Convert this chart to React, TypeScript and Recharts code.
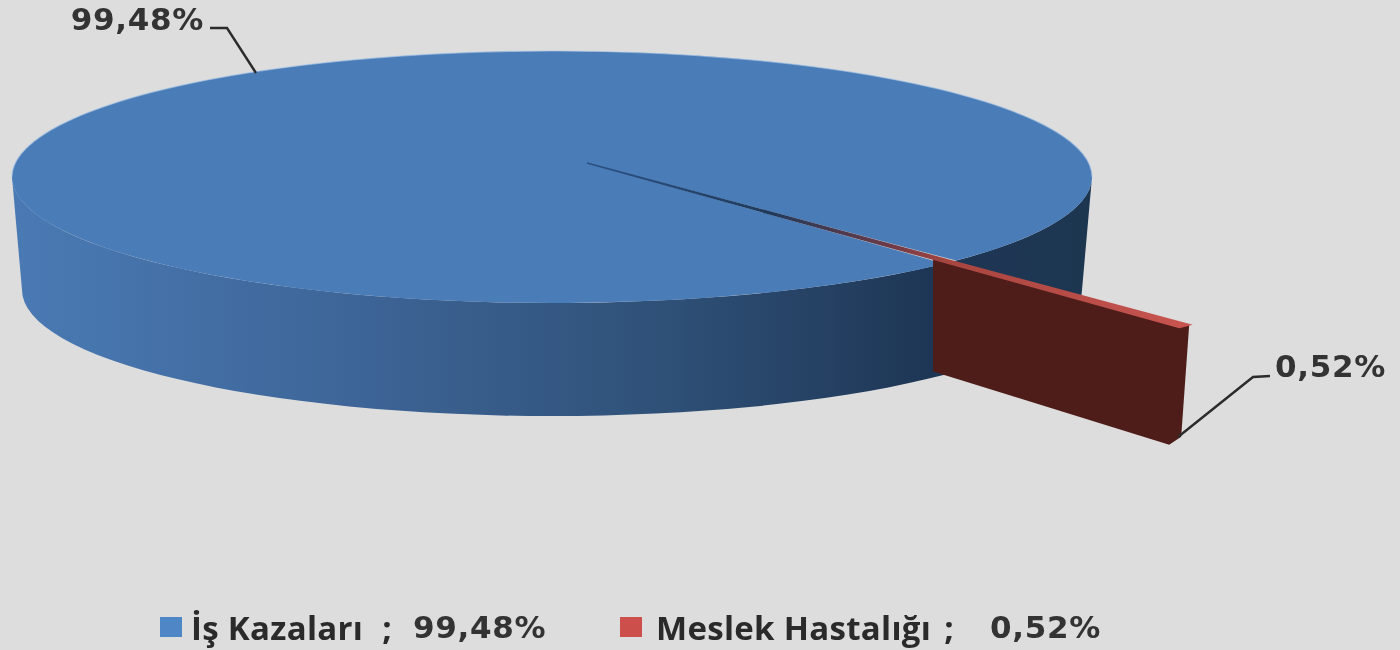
import { PieChart, Pie, Legend } from "recharts";

const sliceNames = ["İş Kazaları", "Meslek Hastalığı"];
const sliceValues = [99.48, 0.52];
const sliceColors = ["#4a7cb8", "#c0504d"];

const data = sliceNames.map((name, i) => ({ name, value: sliceValues[i], fill: sliceColors[i] }));

const fmt = (v: number) => v.toFixed(2).replace(".", ",") + "%";
const RAD = Math.PI / 180;

// the pie is flattened: vertical radius is a fraction of the horizontal one
const SQUASH = 126 / 540;
const BASE_SCALE = 530 / 540;
const DEPTH = 113;
// tips of the wedges sit off the ellipse centre because of the 3D view
const APEX_DX = 35;
const APEX_DY = -14;
const EXPLODE = 1.645;
const WALL_START = 0.953;

function Slice(props: any) {
  const { cx, cy, outerRadius: r, startAngle, endAngle, value } = props;
  const ry = r * SQUASH;
  const onRim = (a: number) => [cx + r * Math.cos(a * RAD), cy - ry * Math.sin(a * RAD)];
  const apex = [cx + APEX_DX, cy + APEX_DY];
  const ray = (a: number, k: number) => {
    const p = onRim(a);
    return [apex[0] + k * (p[0] - apex[0]), apex[1] + k * (p[1] - apex[1])];
  };
  const line = (pts: number[][]) => pts.map((p, i) => `${i ? "L" : "M"}${p[0]},${p[1]}`).join(" ") + " Z";

  if (value > 50) {
    const a = onRim(startAngle);
    const b = onRim(endAngle);
    const rb = r * BASE_SCALE;
    const side =
      `M${cx - r},${cy} A${r},${ry} 0 0 0 ${cx + r},${cy} ` +
      `L${cx + rb},${cy + DEPTH} A${rb},${ry} 0 0 1 ${cx - rb},${cy + DEPTH} Z`;
    return (
      <g>
        <defs>
          <linearGradient id="wallBlue" gradientUnits="userSpaceOnUse" x1={cx - r} y1={0} x2={cx + r} y2={0}>
            <stop offset="0" stopColor="#4a7ab4" />
            <stop offset="0.3" stopColor="#3e6699" />
            <stop offset="0.6" stopColor="#2f5178" />
            <stop offset="0.85" stopColor="#1e3655" />
            <stop offset="1" stopColor="#1d3650" />
          </linearGradient>
        </defs>
        <path d={side} fill="url(#wallBlue)" />
        <path d={`M${apex[0]},${apex[1]} L${a[0]},${a[1]} A${r},${ry} 0 1 1 ${b[0]},${b[1]} Z`} fill={props.fill} />
        {/* pale rim along the far edge only */}
        <path
          d={`M${cx - r},${cy} A${r},${ry} 0 0 1 ${cx + r},${cy}`}
          fill="none"
          stroke="#a9c6e8"
          strokeOpacity={0.6}
          strokeWidth={1.2}
        />
      </g>
    );
  }

  const mid = (startAngle + endAngle) / 2;
  const half = (startAngle - endAngle) / 4;
  const up = ray(mid + half, EXPLODE);
  const low = ray(mid - half, EXPLODE);
  const wallA = ray(mid, WALL_START);
  return (
    <g>
      <defs>
        <linearGradient
          id="stripeRed"
          gradientUnits="userSpaceOnUse"
          x1={apex[0]}
          y1={apex[1]}
          x2={up[0]}
          y2={up[1]}
        >
          <stop offset="0" stopColor="#2b5285" />
          <stop offset="0.3" stopColor="#1f3a5c" />
          <stop offset="0.5" stopColor="#6b3a48" />
          <stop offset="0.6" stopColor="#a84540" />
          <stop offset="1" stopColor="#c8544f" />
        </linearGradient>
      </defs>
      <path
        d={line([
          wallA,
          up,
          [up[0] - 8, up[1] + 112],
          [up[0] - 20, up[1] + 120],
          [wallA[0], wallA[1] + DEPTH + 1],
        ])}
        fill="#4f1d19"
      />
      <path d={line([apex, up, low])} fill="url(#stripeRed)" stroke="url(#stripeRed)" strokeWidth={1.8} />
    </g>
  );
}

function SliceLabel(props: any) {
  const { cx, cy, value } = props;
  const big = value > 50;
  const pts = big
    ? [[cx - 296, cy - 104], [cx - 325, cy - 149], [cx - 342, cy - 149]]
    : [[cx + 626, cy + 260], [cx + 701, cy + 200], [cx + 718, cy + 199]];
  return (
    <g>
      <polyline points={pts.map((p) => p.join(",")).join(" ")} fill="none" stroke="#2b2b2b" strokeWidth={2.4} />
      <text
        x={big ? cx - 348 : cx + 723}
        y={big ? cy - 147 : cy + 200}
        textAnchor={big ? "end" : "start"}
        fontFamily="DejaVu Sans"
        fontWeight="bold"
        fontSize={31}
        letterSpacing={0.7}
        fill="#333333"
      >
        {fmt(value)}
      </text>
    </g>
  );
}

function LegendRow() {
  return (
    <div style={{ display: "flex", color: "#2a2a2a", height: 46, alignItems: "center" }}>
      {data.map((d, i) => (
        <div key={d.name} style={{ display: "flex", alignItems: "center", width: 460, whiteSpace: "pre", flex: "none" }}>
          <span style={{ width: 22, height: 20, background: i === 0 ? "#4f86c6" : "#cc4f4c", marginRight: i === 0 ? 9 : 14, flex: "none" }} />
          <span
            style={{
              fontFamily: "Open Sans",
              fontWeight: 700,
              fontSize: 33,
              letterSpacing: 0.3,
              width: i === 0 ? 222 : 334,
              flex: "none",
            }}
          >
            {d.name}
            <span style={{ marginLeft: i === 0 ? 19 : 13 }}>;</span>
          </span>
          <span style={{ fontFamily: "DejaVu Sans", fontWeight: "bold", fontSize: 31, letterSpacing: 0.7, color: "#333333", flex: "none" }}>
            {fmt(d.value)}
          </span>
        </div>
      ))}
    </div>
  );
}

export default function App() {
  return (
    <div style={{ position: "absolute", left: 0, top: 0, width: 1400, height: 650, background: "#dddddd", overflow: "hidden", filter: "blur(0.7px)" }}>
      <PieChart width={1400} height={650} margin={{ top: 0, right: 0, bottom: 0, left: 0 }}>
        <Pie
          data={data}
          dataKey="value"
          nameKey="name"
          cx={552}
          cy={177}
          outerRadius={540}
          startAngle={-43.44}
          endAngle={-403.44}
          stroke="none"
          shape={Slice}
          label={SliceLabel}
          labelLine={false}
          isAnimationActive={false}
        />
        <Legend content={LegendRow} wrapperStyle={{ position: "absolute", left: 160, top: 604, width: 1000 }} />
      </PieChart>
    </div>
  );
}
